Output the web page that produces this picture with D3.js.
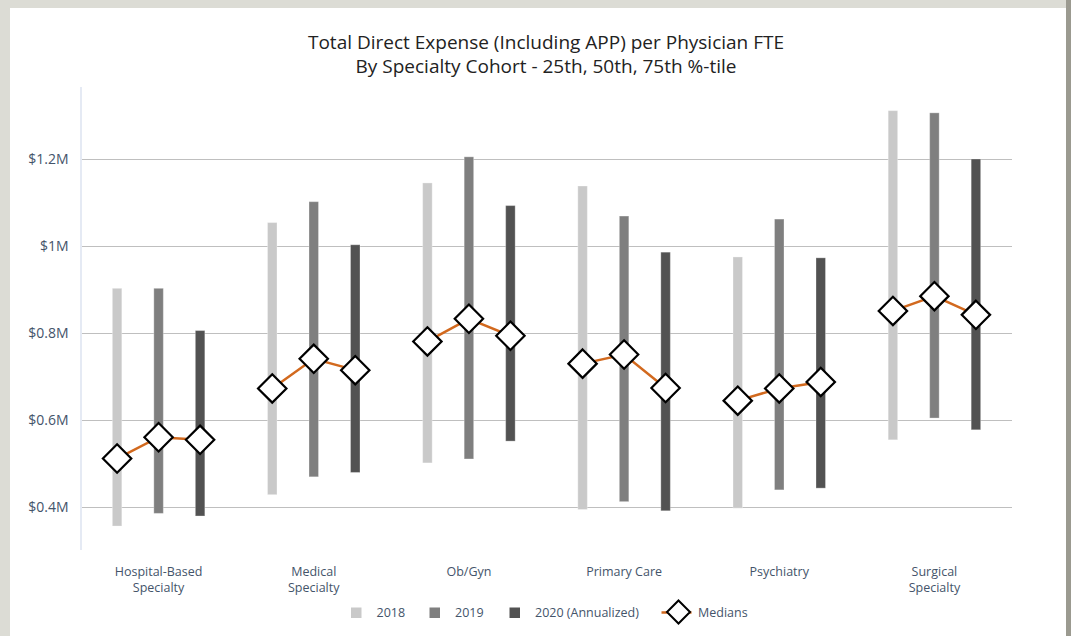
<!DOCTYPE html>
<html lang="en">
<head>
  <meta charset="UTF-8">
  <title>Total Direct Expense per Physician FTE</title>
  <script src="https://d3js.org/d3.v7.min.js"></script>
  <style>
    body { margin: 0; background: #dcdcd5; }
    svg { display: block; font-family: "Open Sans", sans-serif; }
  </style>
</head>
<body>
  <svg id="chart" width="1071" height="636"></svg>

  <script>
    // specialty cohorts (label lines)
    const categories = [
      ["Hospital-Based", "Specialty"],
      ["Medical", "Specialty"],
      ["Ob/Gyn"],
      ["Primary Care"],
      ["Psychiatry"],
      ["Surgical", "Specialty"]
    ];
    const years = ["2018", "2019", "2020 (Annualized)"];

    // values in $M, one entry per cohort
    const p25_2018 = [0.357, 0.429, 0.502, 0.395, 0.398, 0.555];
    const p50_2018 = [0.512, 0.673, 0.781, 0.730, 0.645, 0.851];
    const p75_2018 = [0.903, 1.054, 1.145, 1.138, 0.975, 1.311];

    const p25_2019 = [0.386, 0.470, 0.511, 0.413, 0.440, 0.605];
    const p50_2019 = [0.561, 0.741, 0.833, 0.751, 0.673, 0.885];
    const p75_2019 = [0.903, 1.102, 1.205, 1.069, 1.062, 1.306];

    const p25_2020 = [0.380, 0.480, 0.552, 0.392, 0.444, 0.578];
    const p50_2020 = [0.555, 0.715, 0.794, 0.674, 0.688, 0.842];
    const p75_2020 = [0.806, 1.003, 1.093, 0.986, 0.973, 1.200];

    const yTicks = [0.4, 0.6, 0.8, 1.0, 1.2];

    const colors = { "2018": "#c9c9c9", "2019": "#7f7f7f", "2020 (Annualized)": "#525252" };
    const medianColor = "#d2691e";
    const textColor = "#44546a";

    const low = [p25_2018, p25_2019, p25_2020];
    const mid = [p50_2018, p50_2019, p50_2020];
    const high = [p75_2018, p75_2019, p75_2020];

    const svg = d3.select("#chart");

    // page frame
    svg.append("rect").attr("x", 10).attr("y", 8).attr("width", 1056).attr("height", 640).attr("fill", "#fff");
    svg.append("rect").attr("x", 1066).attr("y", 0).attr("width", 5).attr("height", 636).attr("fill", "#9b9a90");

    const plotLeft = 81, plotRight = 1012;

    const x = d3.scaleBand().domain(d3.range(categories.length)).range([plotLeft, plotRight]);
    const xYear = d3.scalePoint().domain(years).range([-41.5, 41.5]);
    const y = d3.scaleLinear().domain([0.4, 1.2]).range([507.3, 159]);

    // title
    const title = svg.append("text")
      .attr("text-anchor", "middle")
      .attr("font-size", 19).attr("fill", "#222");
    title.append("tspan").attr("x", 546).attr("y", 49).text("Total Direct Expense (Including APP) per Physician FTE");
    title.append("tspan").attr("x", 546).attr("y", 73).text("By Specialty Cohort - 25th, 50th, 75th %-tile");

    // y axis with gridlines
    const yAxis = svg.append("g")
      .attr("transform", `translate(${plotLeft + 1},0)`)
      .call(d3.axisLeft(y)
        .tickValues(yTicks)
        .tickSizeInner(-(plotRight - plotLeft - 1))
        .tickSizeOuter(0)
        .tickPadding(13.5)
        .tickFormat(v => "$" + (+v.toFixed(1)) + "M"));
    yAxis.select(".domain").remove();
    yAxis.selectAll(".tick line").attr("stroke", "#bfbfbf").attr("shape-rendering", "crispEdges");
    yAxis.selectAll(".tick text").attr("font-size", 14).attr("fill", textColor)
      .attr("font-family", "Open Sans, sans-serif");

    svg.append("line")
      .attr("x1", plotLeft).attr("x2", plotLeft)
      .attr("y1", 87).attr("y2", 550)
      .attr("stroke", "#dde3f0").attr("stroke-width", 1.5);

    // rows: one per cohort/year
    const rows = [];
    categories.forEach((c, i) => {
      years.forEach((yr, j) => {
        rows.push({ cat: i, year: yr, lo: low[j][i], med: mid[j][i], hi: high[j][i] });
      });
    });
    const cx = d => x(d.cat) + x.bandwidth() / 2 + xYear(d.year);

    svg.append("g").selectAll("rect")
      .data(rows)
      .join("rect")
      .attr("x", d => cx(d) - 4.75)
      .attr("width", 9.5)
      .attr("y", d => y(d.hi))
      .attr("height", d => y(d.lo) - y(d.hi))
      .attr("fill", d => colors[d.year])
      .attr("stroke", "#fff").attr("stroke-opacity", 0.3).attr("stroke-width", 1);

    // median lines per cohort
    const line = d3.line().x(d => cx(d)).y(d => y(d.med));
    svg.append("g").selectAll("path")
      .data(d3.groups(rows, d => d.cat).map(g => g[1]))
      .join("path")
      .attr("d", line)
      .attr("fill", "none")
      .attr("stroke", medianColor)
      .attr("stroke-width", 2.5);

    const diamond = r => `M0,${-r}L${r},0L0,${r}L${-r},0Z`;
    svg.append("g").selectAll("path")
      .data(rows)
      .join("path")
      .attr("transform", d => `translate(${cx(d)},${y(d.med)})`)
      .attr("d", diamond(14.2))
      .attr("fill", "#fff")
      .attr("stroke", "#000")
      .attr("stroke-width", 2.2);

    // category labels
    const xl = svg.append("g").selectAll("text")
      .data(categories)
      .join("text")
      .attr("text-anchor", "middle")
      .attr("font-size", 12.5)
      .attr("fill", textColor);
    xl.selectAll("tspan")
      .data((d, i) => d.map(t => ({ t, i })))
      .join("tspan")
      .attr("x", d => x(d.i) + x.bandwidth() / 2)
      .attr("y", (d, k) => 576 + k * 16)
      .text(d => d.t);

    // legend
    const legend = svg.append("g").attr("font-size", 12.5).attr("fill", textColor);
    const legendX = [351, 429.5, 509.5];
    years.forEach((yr, j) => {
      legend.append("rect").attr("x", legendX[j]).attr("y", 607.5)
        .attr("width", 10.5).attr("height", 10.5).attr("fill", colors[yr]);
      legend.append("text").attr("x", legendX[j] + 25.5).attr("y", 617).text(yr);
    });
    legend.append("line").attr("x1", 661.5).attr("x2", 691.5).attr("y1", 612.5).attr("y2", 612.5)
      .attr("stroke", medianColor).attr("stroke-width", 2.5);
    legend.append("path").attr("transform", "translate(678.5,612)").attr("d", diamond(11.5))
      .attr("fill", "#fff").attr("stroke", "#000").attr("stroke-width", 2);
    legend.append("text").attr("x", 698).attr("y", 617).text("Medians");
  </script>
</body>
</html>
